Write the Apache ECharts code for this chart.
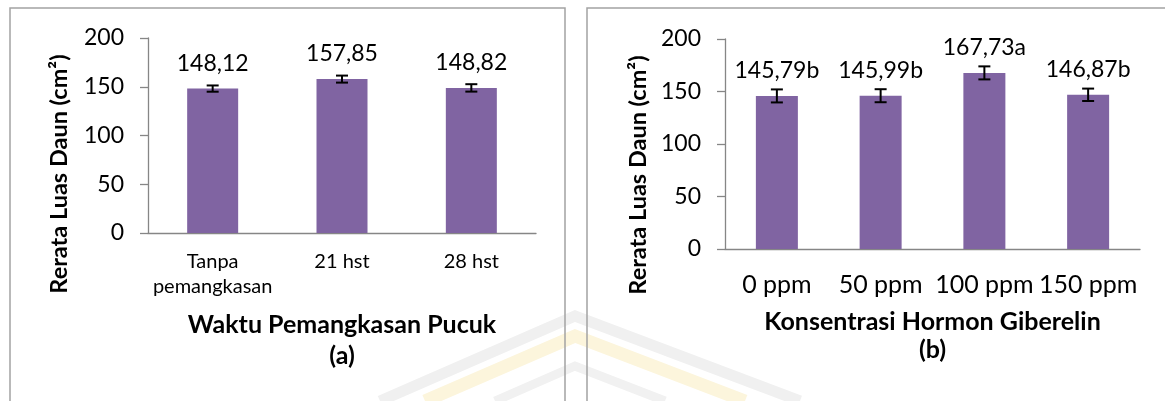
<!DOCTYPE html>
<html>
<head>
<meta charset="utf-8">
<script src="https://cdn.jsdelivr.net/npm/echarts@6/dist/echarts.min.js"></script>
<style>
  html, body { margin: 0; padding: 0; background: #fff; }
  #chart { width: 1165px; height: 401px; }
</style>
</head>
<body>
<div id="chart"></div>
<script>
// panel (a): waktu pemangkasan pucuk
var catsA = ['Tanpa\npemangkasan', '21 hst', '28 hst'];
var valsA = [148.12, 157.85, 148.82];
var errA = [3.2, 3.6, 3.8];

// panel (b): konsentrasi hormon giberelin
var catsB = ['0 ppm', '50 ppm', '100 ppm', '150 ppm'];
var valsB = [145.79, 145.99, 167.73, 146.87];
var errB = [6.2, 6.2, 6.2, 5.9];
var notasiB = ['b', 'b', 'a', 'b'];

var yTicks = [0, 50, 100, 150, 200];

var FONT = 'Lato';
var ungu = '#8064A2';
var abu = '#868686';

var dom = document.getElementById('chart');
var myChart = echarts.init(dom);

function koma(v) {
    return v.toFixed(2).replace('.', ',');
}

// error bar drawn through the axis scales
function errItem(params, api) {
    var x = api.value(0), y = api.value(1), e = api.value(2);
    var hi = api.coord([x, y + e]);
    var lo = api.coord([x, y - e]);
    var w = 6;
    var st = { stroke: '#000', lineWidth: 2 };
    return {
        type: 'group',
        children: [
            { type: 'line', shape: { x1: hi[0], y1: hi[1], x2: lo[0], y2: lo[1] }, style: st },
            { type: 'line', shape: { x1: hi[0] - w, y1: hi[1], x2: hi[0] + w, y2: hi[1] }, style: st },
            { type: 'line', shape: { x1: lo[0] - w, y1: lo[1], x2: lo[0] + w, y2: lo[1] }, style: st }
        ]
    };
}

function yAxisOpt(idx) {
    return {
        type: 'value', gridIndex: idx, min: yTicks[0], max: yTicks[yTicks.length - 1], interval: 50,
        axisLine: { show: true, lineStyle: { color: abu, width: 1.3 } },
        axisTick: { show: true, length: 8, lineStyle: { color: abu, width: 1.3 } },
        splitLine: { show: false },
        axisLabel: { margin: 24, fontFamily: FONT, fontSize: 23, color: '#000' }
    };
}

var watermark = [
    { type: 'polyline', z: -10, shape: { points: [[380, 401], [575, 316], [800, 401]] },
      style: { fill: null, stroke: '#f0f0f0', lineWidth: 11 } },
    { type: 'polyline', z: -10, shape: { points: [[425, 401], [575, 336], [745, 401]] },
      style: { fill: null, stroke: '#fcf5dc', lineWidth: 13 } },
    { type: 'polyline', z: -10, shape: { points: [[495, 401], [575, 366], [665, 401]] },
      style: { fill: null, stroke: '#f1f1f1', lineWidth: 9 } }
];

option = {
    backgroundColor: '#fff',
    animation: false,
    textStyle: { fontFamily: FONT },
    graphic: watermark.concat([
        { type: 'rect', shape: { x: 10, y: 8, width: 555, height: 440 },
          style: { fill: null, stroke: '#a3a3a3', lineWidth: 1.5 } },
        { type: 'rect', shape: { x: 587, y: 8, width: 620, height: 440 },
          style: { fill: null, stroke: '#a3a3a3', lineWidth: 1.5 } },
        { type: 'text', x: 59, y: 174, rotation: Math.PI / 2,
          style: { text: 'Rerata Luas Daun (cm²)', align: 'center', verticalAlign: 'middle',
                   fontFamily: FONT, fontWeight: 'bold', fontSize: 23.5, fill: '#000' } },
        { type: 'text', x: 638, y: 175, rotation: Math.PI / 2,
          style: { text: 'Rerata Luas Daun (cm²)', align: 'center', verticalAlign: 'middle',
                   fontFamily: FONT, fontWeight: 'bold', fontSize: 23.5, fill: '#000' } }
    ]),
    grid: [
        { left: 148, top: 38, width: 388, height: 195 },
        { left: 725, top: 39, width: 415, height: 210 }
    ],
    xAxis: [
        {
            type: 'category', gridIndex: 0, data: catsA,
            axisLine: { lineStyle: { color: abu, width: 1.3 } },
            axisTick: { show: false },
            axisLabel: { interval: 0, margin: 16, fontFamily: FONT, fontSize: 20, lineHeight: 25, color: '#000' },
            name: 'Waktu Pemangkasan Pucuk\n(a)', nameLocation: 'middle', nameGap: 76,
            nameTextStyle: { fontFamily: FONT, fontWeight: 'bold', fontSize: 25, lineHeight: 31, color: '#000' }
        },
        {
            type: 'category', gridIndex: 1, data: catsB,
            axisLine: { lineStyle: { color: abu, width: 1.3 } },
            axisTick: { show: false },
            axisLabel: { interval: 0, margin: 22, fontFamily: FONT, fontSize: 25, lineHeight: 28, color: '#000' },
            name: 'Konsentrasi Hormon Giberelin\n(b)', nameLocation: 'middle', nameGap: 59,
            nameTextStyle: { fontFamily: FONT, fontWeight: 'bold', fontSize: 25, lineHeight: 28, color: '#000' }
        }
    ],
    yAxis: [yAxisOpt(0), yAxisOpt(1)],
    series: [
        {
            type: 'bar', xAxisIndex: 0, yAxisIndex: 0, data: valsA, barWidth: 51,
            itemStyle: { color: ungu },
            label: { show: true, position: 'top', distance: 14, fontFamily: FONT, fontSize: 23, color: '#000',
                     formatter: function (p) { return koma(p.value); } }
        },
        {
            type: 'custom', xAxisIndex: 0, yAxisIndex: 0, renderItem: errItem, z: 5,
            data: valsA.map(function (v, i) { return [i, v, errA[i]]; })
        },
        {
            type: 'bar', xAxisIndex: 1, yAxisIndex: 1, data: valsB, barWidth: 42,
            itemStyle: { color: ungu },
            label: { show: true, position: 'top', distance: 14, fontFamily: FONT, fontSize: 23, color: '#000',
                     formatter: function (p) { return koma(p.value) + notasiB[p.dataIndex]; } }
        },
        {
            type: 'custom', xAxisIndex: 1, yAxisIndex: 1, renderItem: errItem, z: 5,
            data: valsB.map(function (v, i) { return [i, v, errB[i]]; })
        }
    ]
};

myChart.setOption(option, true);
</script>
</body>
</html>
